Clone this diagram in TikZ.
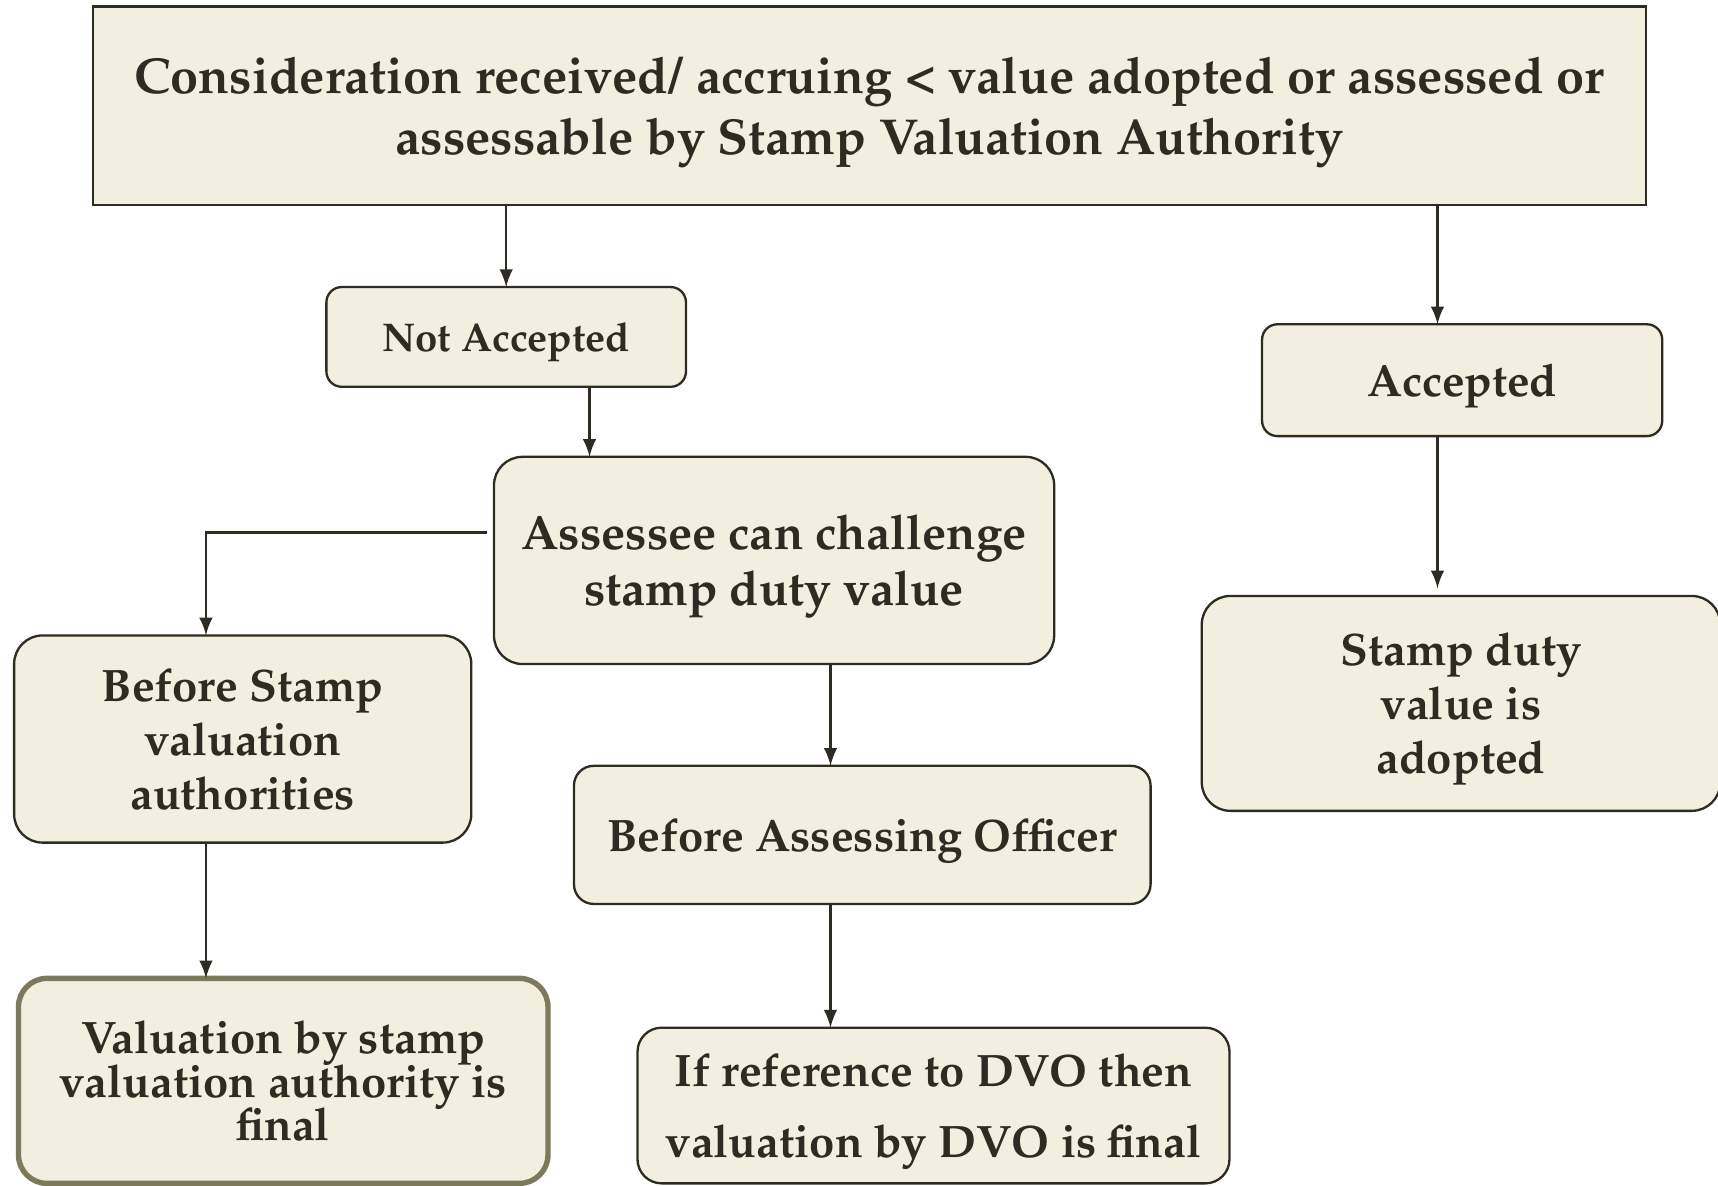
\documentclass[tikz,border=0pt]{standalone}
\usepackage[T1]{fontenc}
\renewcommand{\rmdefault}{ppl}
\usepackage{tikz}
\usetikzlibrary{arrows, calc, positioning}

\definecolor{boxfill}{HTML}{F2EFE1}
\definecolor{boxline}{HTML}{2E2B22}
\definecolor{finalline}{HTML}{7D7A5C}
\newcommand{\tightlines}{\lineskiplimit=-6pt\lineskip=0pt\relax}

\begin{document}
\begin{tikzpicture}[x=0.01cm, y=-0.01cm, >=latex]
\tikzset{every node/.style={inner sep=0mm, outer sep=0mm, text=boxline, align=center}}

\tikzstyle{base}=[draw=boxline, fill=boxfill, line width=0.6pt, text depth=0pt]
\tikzstyle{head}=[base, rectangle, font=\fontsize{13.1}{15.6}\selectfont\bfseries]
\tikzstyle{choice}=[base, rounded corners=0.14cm, font=\fontsize{11.7}{14}\selectfont\bfseries]
\tikzstyle{stage}=[base, rounded corners=0.26cm, font=\fontsize{11.8}{14}\selectfont\bfseries]
\tikzstyle{final}=[stage, draw=finalline, line width=1.4pt]
\tikzstyle{post}=[->, semithick, draw=boxline]

\useasboundingbox (0,0) rectangle (1568,1082);
\clip (0,0) rectangle (1568,1082);

\node[head, minimum width=14.17cm, minimum height=1.81cm] (consid) at (793.5,96.5)
    {Consideration received/ accruing \textless{} value adopted or assessed or\\ assessable by Stamp Valuation Authority};

\node[choice, minimum width=3.28cm, minimum height=0.91cm, font=\fontsize{10.4}{13}\selectfont\bfseries] (not acc) at (462,307.5) {Not Accepted};
\node[choice, minimum width=3.65cm, minimum height=1.02cm] (acc) at (1334.5,347) {Accepted};

\node[stage, minimum width=5.11cm, minimum height=1.89cm, font=\fontsize{12.5}{14.5}\selectfont\bfseries] (challenge) at (706.5,511.5)
    {Assessee can challenge\\ stamp duty value};
\node[stage, minimum width=4.73cm, minimum height=1.96cm] (sdv adopted) at (1333.5,642)
    {Stamp duty\\ value is\\ adopted};
\node[stage, minimum width=4.17cm, minimum height=1.89cm] (before sva) at (221.5,674.5)
    {Before Stamp\\ valuation\\ authorities};
\node[stage, rounded corners=0.18cm, minimum width=5.26cm, minimum height=1.26cm] (before ao) at (787,762)
    {Before Assessing Officer};

\node[final, minimum width=4.83cm, minimum height=1.87cm, font=\fontsize{11.8}{11.3}\selectfont\bfseries\tightlines] (sva final) at (258.5,986.5)
    {Valuation by stamp\\ valuation authority is\\ final};
\node[stage, rounded corners=0.22cm, minimum width=5.40cm, minimum height=1.42cm, font=\fontsize{11.8}{18.4}\selectfont\bfseries] (dvo final) at (852,1009)
    {If reference to DVO then\\ valuation by DVO is final};

\draw[post] (not acc |- consid.south) -- (not acc);
\draw[post] ([xshift=-0.225cm]acc.north |- consid.south) -- ([xshift=-0.225cm]acc.north);
\draw[post] ([xshift=0.76cm]not acc.south) -- ([xshift=0.76cm]not acc.south |- challenge.north);
\draw[post] ([xshift=-0.06cm, yshift=0.255cm]challenge.west) -| ([xshift=-0.335cm]before sva.north);
\draw[post] ([xshift=-0.335cm]before sva.south) -- ([xshift=-0.335cm]before sva.south |- sva final.north);
\draw[post] ([xshift=0.515cm]challenge.south) -- ([xshift=0.515cm]challenge.south |- before ao.north);
\draw[post] ([xshift=-0.29cm]before ao.south) -- ([xshift=-0.29cm]before ao.south |- dvo final.north);
\draw[post, shorten >=0.07cm] ([xshift=-0.225cm]acc.south) -- ([xshift=-0.225cm]acc.south |- sdv adopted.north);

\end{tikzpicture}
\end{document}
